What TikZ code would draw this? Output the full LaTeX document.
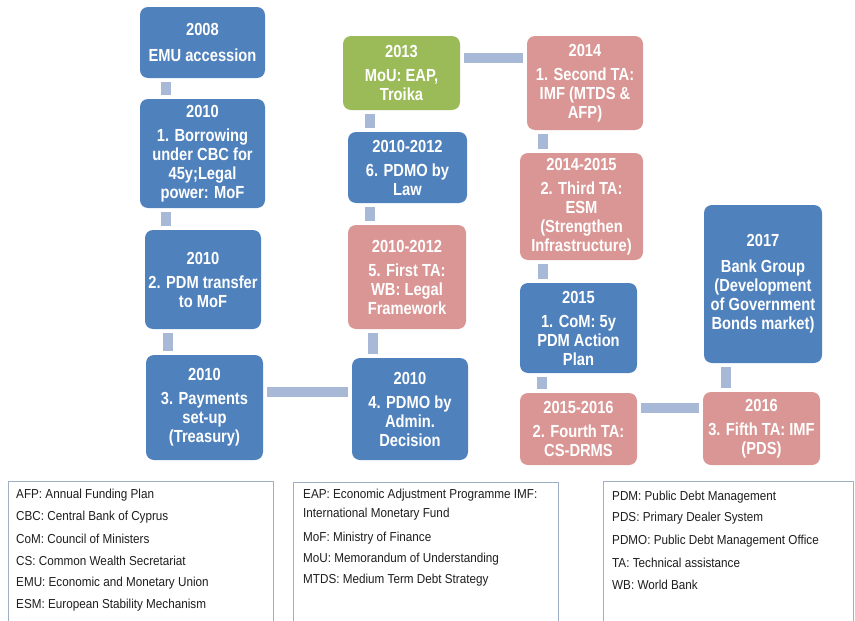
\documentclass[tikz,border=0pt]{standalone}
\usepackage{fontspec}
\setmainfont{Liberation Sans}[FakeStretch=0.84]
\newfontfamily\legfont{Liberation Sans}[FakeStretch=0.9]
\definecolor{tlblue}{HTML}{4F81BD}
\definecolor{tlpink}{HTML}{D99694}
\definecolor{tlgreen}{HTML}{9BBB59}
\definecolor{tlconn}{RGB}{167,185,214}
\definecolor{legline}{RGB}{160,176,196}
\definecolor{legtext}{RGB}{30,30,30}
\begin{document}
\begin{tikzpicture}[x=1pt,y=-1pt,
  box/.style={rounded corners=8pt, text=white, align=center, inner sep=0pt,
    font=\bfseries\fontsize{17.5}{19}\selectfont},
  bluebox/.style={box, fill=tlblue},
  pinkbox/.style={box, fill=tlpink},
  greenbox/.style={box, fill=tlgreen},
  conn/.style={draw=tlconn, line width=10pt, shorten <=4pt, shorten >=4pt},
  legbox/.style={draw=legline, line width=0.9pt},
  legitem/.style={anchor=west, inner sep=0pt, text=legtext, align=left,
    font=\legfont\fontsize{13}{19.5}\selectfont}]
\useasboundingbox[fill=white] (0,0) rectangle (855,621);

% timeline boxes
\node[bluebox, minimum width=125pt, minimum height=71pt] (b1) at (202.5,42.5)
  {2008\\[7pt]EMU accession};
\node[bluebox, minimum width=125pt, minimum height=109pt] (b2) at (202.5,153.5)
  {2010\\[5pt]1. Borrowing\\under CBC for\\45y;Legal\\power: MoF};
\node[bluebox, minimum width=116pt, minimum height=99pt] (b3) at (203,279.5)
  {2010\\[5pt]2. PDM transfer\\to MoF};
\node[bluebox, minimum width=117pt, minimum height=105pt] (b4) at (204.5,407.5)
  {2010\\[5pt]3. Payments\\set-up\\(Treasury)};
\node[bluebox, minimum width=116pt, minimum height=102pt] (b5) at (410,409)
  {2010\\[5pt]4. PDMO by\\Admin.\\Decision};
\node[pinkbox, minimum width=118pt, minimum height=104pt] (b6) at (407,277)
  {2010-2012\\[5pt]5. First TA:\\WB: Legal\\Framework};
\node[bluebox, minimum width=119pt, minimum height=71pt] (b7) at (407.5,167.5)
  {2010-2012\\[5pt]6. PDMO by\\Law};
\node[greenbox, minimum width=117pt, minimum height=74pt] (b8) at (401.5,73)
  {2013\\[5pt]MoU: EAP,\\Troika};
\node[pinkbox, minimum width=116pt, minimum height=94pt] (b9) at (585,83)
  {2014\\[5pt]1. Second TA:\\IMF (MTDS \&\\AFP)};
\node[pinkbox, minimum width=123pt, minimum height=107pt] (b10) at (581.5,206.5)
  {2014-2015\\[5pt]2. Third TA:\\ESM\\(Strengthen\\Infrastructure)};
\node[bluebox, minimum width=117pt, minimum height=90pt] (b11) at (578.5,328)
  {2015\\[5pt]1. CoM: 5y\\PDM Action\\Plan};
\node[pinkbox, minimum width=117pt, minimum height=72pt] (b12) at (578.5,429)
  {2015-2016\\[5pt]2. Fourth TA:\\CS-DRMS};
\node[pinkbox, minimum width=117pt, minimum height=73pt] (b13) at (761.5,428.5)
  {2016\\[5pt]3. Fifth TA: IMF\\(PDS)};
\node[bluebox, minimum width=118pt, minimum height=158pt] (b14) at (763,284)
  {2017\\[7pt]Bank Group\\(Development\\of Government\\Bonds market)};

% connectors
\draw[conn] ([xshift=26pt]b1.south west) -- ([xshift=26pt]b1.south west |- b2.north);
\draw[conn] ([xshift=26pt]b2.south west) -- ([xshift=26pt]b2.south west |- b3.north);
\draw[conn] ([xshift=23pt]b3.south west) -- ([xshift=23pt]b3.south west |- b4.north);
\draw[conn] ([yshift=15.5pt]b4.east) -- ([yshift=15.5pt]b4.east -| b5.west);
\draw[conn] ([xshift=21pt]b5.north west) -- ([xshift=21pt]b5.north west |- b6.south);
\draw[conn] ([xshift=22pt]b6.north west) -- ([xshift=22pt]b6.north west |- b7.south);
\draw[conn] ([xshift=22pt]b7.north west) -- ([xshift=22pt]b7.north west |- b8.south);
\draw[conn] ([yshift=-22pt]b8.north east) -- ([yshift=-22pt]b8.north east -| b9.west);
\draw[conn] ([xshift=16pt]b9.south west) -- ([xshift=16pt]b9.south west |- b10.north);
\draw[conn] ([xshift=23pt]b10.south west) -- ([xshift=23pt]b10.south west |- b11.north);
\draw[conn] ([xshift=22pt]b11.south west) -- ([xshift=22pt]b11.south west |- b12.north);
\draw[conn] ([yshift=-15pt]b12.north east) -- ([yshift=-15pt]b12.north east -| b13.west);
\draw[conn] ([xshift=23pt]b13.north west) -- ([xshift=23pt]b13.north west |- b14.south);

% legends
\draw[legbox] (8,640) -- (8,481) -- (273,481) -- (273,640);
\draw[legbox] (293,640) -- (293,482) -- (558,482) -- (558,640);
\draw[legbox] (603,640) -- (603,481) -- (853,481) -- (853,640);

\node[legitem] (l1a) at (16,495.5) {AFP: Annual Funding Plan};
\node[legitem] (l1b) at (16,517) {CBC: Central Bank of Cyprus};
\node[legitem] (l1c) at (16,539) {CoM: Council of Ministers};
\node[legitem] (l1d) at (16,561) {CS: Common Wealth Secretariat};
\node[legitem] (l1e) at (16,583) {EMU: Economic and Monetary Union};
\node[legitem] (l1f) at (16,605) {ESM: European Stability Mechanism};

\node[legitem] (l2a) at (303,504.5) {EAP: Economic Adjustment Programme IMF:\\International Monetary Fund};
\node[legitem] (l2b) at (303,538) {MoF: Ministry of Finance};
\node[legitem] (l2c) at (303,559.5) {MoU: Memorandum of Understanding};
\node[legitem] (l2d) at (303,580.5) {MTDS: Medium Term Debt Strategy};

\node[legitem] (l3a) at (612,497) {PDM: Public Debt Management};
\node[legitem] (l3b) at (612,518.5) {PDS: Primary Dealer System};
\node[legitem] (l3c) at (612,541) {PDMO: Public Debt Management Office};
\node[legitem] (l3d) at (612,563) {TA: Technical assistance};
\node[legitem] (l3e) at (612,585) {WB: World Bank};
\end{tikzpicture}
\end{document}
